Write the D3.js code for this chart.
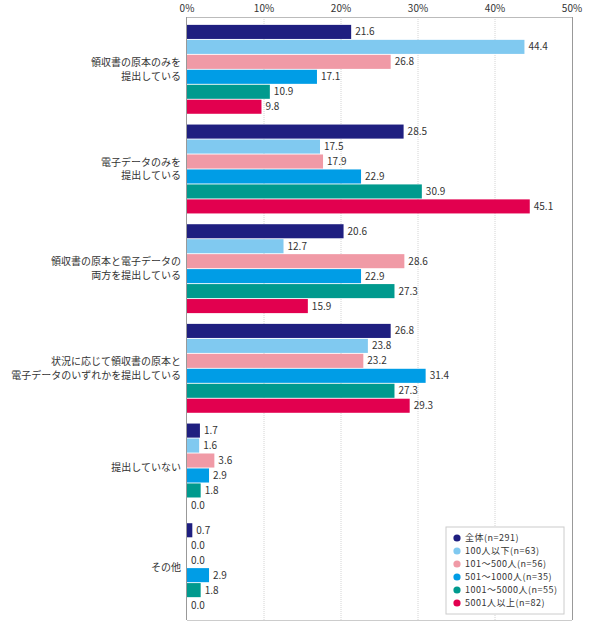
<!DOCTYPE html>
<html>
<head>
<meta charset="utf-8">
<script src="https://cdn.jsdelivr.net/npm/d3@7"></script>
<style>
  body { margin: 0; background: #fff; }
  text { font-family: "Noto Sans CJK JP", "Noto Sans", sans-serif; fill: #333; }
</style>
</head>
<body>
<svg id="chart"></svg>
<script>

// categories (each label split into lines)
const categories = [
        ["領収書の原本のみを", "提出している"],
        ["電子データのみを", "提出している"],
        ["領収書の原本と電子データの", "両方を提出している"],
        ["状況に応じて領収書の原本と", "電子データのいずれかを提出している"],
        ["提出していない"],
        ["その他"]
]

const seriesNames = ["全体(n=291)", "100人以下(n=63)", "101～500人(n=56)", "501～1000人(n=35)", "1001～5000人(n=55)", "5001人以上(n=82)"]
const seriesColors = ["#1f1f80", "#80c9f0", "#f09aa6", "#009de6", "#009a8e", "#e2004f"]

// values per series, one per category
const values = [
        [21.6, 28.5, 20.6, 26.8, 1.7, 0.7],
        [44.4, 17.5, 12.7, 23.8, 1.6, 0.0],
        [26.8, 17.9, 28.6, 23.2, 3.6, 0.0],
        [17.1, 22.9, 22.9, 31.4, 2.9, 2.9],
        [10.9, 30.9, 27.3, 27.3, 1.8, 1.8],
        [9.8, 45.1, 15.9, 29.3, 0.0, 0.0]
]

const xTicks = [0, 10, 20, 30, 40, 50]

const width = 590, height = 627
const margin = {top: 17, right: 18, bottom: 7, left: 187}

const svg = d3.select("#chart").attr("width", width).attr("height", height)

// grid/tick scale
const x = d3.scaleLinear().domain([0, 50]).range([margin.left, width - margin.right])
// bars in the original are drawn a little shorter than the grid
const xBar = d3.scaleLinear().domain([0, 50]).range([margin.left, width - margin.right - 5])

const catIdx = d3.range(categories.length)
const y0 = d3.scaleBand().domain(catIdx).range([margin.top, height - margin.bottom])
        .paddingInner(0.09).paddingOuter(0.07)
const y1 = d3.scaleBand().domain(d3.range(seriesNames.length)).range([0, y0.bandwidth()]).padding(0.06)

//grid lines
svg.append("g")
        .selectAll("line")
        .data(xTicks.slice(1, -1))
        .join("line")
        .attr("x1", d => x(d)).attr("x2", d => x(d))
        .attr("y1", margin.top).attr("y2", height - margin.bottom)
        .attr("stroke", "#d4d4d4")
        .attr("stroke-dasharray", "1,1")

//frame
svg.append("line")
        .attr("x1", x(0)).attr("x2", x(50))
        .attr("y1", margin.top + 0.5).attr("y2", margin.top + 0.5)
        .attr("stroke", "#bbb")
svg.append("line")
        .attr("x1", x(50) + 0.5).attr("x2", x(50) + 0.5)
        .attr("y1", margin.top).attr("y2", height - margin.bottom)
        .attr("stroke", "#999")
svg.append("line")
        .attr("x1", x(0)).attr("x2", x(50))
        .attr("y1", height - margin.bottom + 0.5).attr("y2", height - margin.bottom + 0.5)
        .attr("stroke", "#ccc")
svg.append("line")
        .attr("x1", x(0) - 0.5).attr("x2", x(0) - 0.5)
        .attr("y1", margin.top).attr("y2", height - margin.bottom)
        .attr("stroke", "#999")

//top axis labels
svg.append("g")
        .selectAll("text")
        .data(xTicks)
        .join("text")
        .attr("x", d => x(d))
        .attr("y", 12)
        .attr("text-anchor", "middle")
        .attr("font-size", "10px")
        .text(d => d + "%")

//bars
const groups = svg.append("g")
        .selectAll("g")
        .data(catIdx)
        .join("g")
        .attr("transform", d => `translate(0, ${y0(d)})`)

groups.selectAll("rect")
        .data(c => values.map((v, s) => ({s: s, v: v[c]})))
        .join("rect")
        .attr("x", xBar(0))
        .attr("y", d => y1(d.s))
        .attr("width", d => xBar(d.v) - xBar(0))
        .attr("height", y1.bandwidth())
        .attr("fill", d => seriesColors[d.s])

groups.selectAll("text.val")
        .data(c => values.map((v, s) => ({s: s, v: v[c]})))
        .join("text")
        .attr("class", "val")
        .attr("x", d => xBar(d.v) + 4)
        .attr("y", d => y1(d.s) + y1.bandwidth() / 2)
        .attr("dy", "0.35em")
        .attr("font-size", "10px")
        .text(d => d.v.toFixed(1))

//category labels
groups.append("text")
        .attr("text-anchor", "end")
        .attr("font-size", "10px")
        .selectAll("tspan")
        .data(c => categories[c].map((t, i, a) => ({t: t, i: i, n: a.length})))
        .join("tspan")
        .attr("x", x(0) - 6)
        .attr("y", d => y0.bandwidth() / 2 + (d.i - (d.n - 1) / 2) * 13.5)
        .attr("dy", "0.35em")
        .text(d => d.t)

//legend
const legend = svg.append("g").attr("transform", "translate(446, 527)")
legend.append("rect")
        .attr("width", 118).attr("height", 87)
        .attr("fill", "white").attr("stroke", "#ccc")

const items = legend.selectAll("g")
        .data(seriesNames)
        .join("g")
        .attr("transform", (d, i) => `translate(11, ${11 + i * 13})`)

items.append("circle")
        .attr("r", 3.6)
        .attr("fill", (d, i) => seriesColors[i])
items.append("text")
        .attr("x", 8)
        .attr("dy", "0.35em")
        .attr("font-size", "9px")
        .attr("letter-spacing", "0.5px")
        .text(d => d)

</script>
</body>
</html>
